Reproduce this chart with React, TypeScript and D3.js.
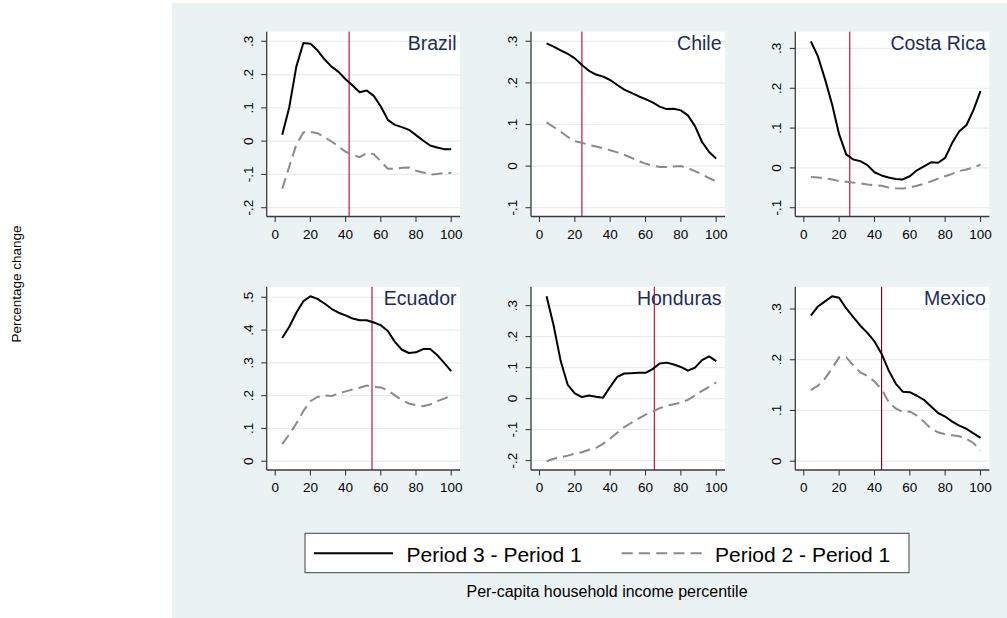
import React from "react";
import * as d3 from "d3";

// Percentile grid on which the income changes were evaluated
const percentiles = [4, 8, 12, 16, 20, 24, 28, 32, 36, 40, 44, 48, 52, 56, 60, 64, 68, 72, 76, 80, 84, 88, 92, 96, 100];

const countries = ["Brazil", "Chile", "Costa Rica", "Ecuador", "Honduras", "Mexico"];

// Period 3 - Period 1
const brazilP3 = [0.019, 0.102, 0.224, 0.295, 0.293, 0.273, 0.246, 0.224, 0.208, 0.186, 0.167, 0.147, 0.152, 0.136, 0.104, 0.064, 0.049, 0.042, 0.034, 0.018, 0.002, -0.013, -0.019, -0.024, -0.024];
const chileP3 = [0.295, 0.287, 0.278, 0.27, 0.259, 0.243, 0.229, 0.22, 0.215, 0.207, 0.195, 0.184, 0.176, 0.168, 0.161, 0.153, 0.143, 0.137, 0.138, 0.134, 0.122, 0.096, 0.058, 0.034, 0.018];
const costaRicaP3 = [0.318, 0.28, 0.223, 0.16, 0.084, 0.034, 0.021, 0.017, 0.007, -0.011, -0.019, -0.024, -0.028, -0.029, -0.021, -0.006, 0.004, 0.014, 0.013, 0.025, 0.063, 0.092, 0.107, 0.145, 0.193];
const ecuadorP3 = [0.376, 0.41, 0.453, 0.488, 0.503, 0.495, 0.481, 0.465, 0.453, 0.445, 0.435, 0.43, 0.43, 0.423, 0.415, 0.397, 0.364, 0.34, 0.33, 0.332, 0.342, 0.342, 0.324, 0.3, 0.275];
const hondurasP3 = [0.33, 0.236, 0.121, 0.044, 0.017, 0.005, 0.01, 0.006, 0.003, 0.038, 0.07, 0.081, 0.082, 0.083, 0.083, 0.095, 0.113, 0.116, 0.11, 0.102, 0.09, 0.1, 0.124, 0.136, 0.121];
const mexicoP3 = [0.287, 0.305, 0.315, 0.325, 0.322, 0.301, 0.284, 0.267, 0.253, 0.236, 0.212, 0.179, 0.153, 0.137, 0.136, 0.129, 0.121, 0.108, 0.095, 0.088, 0.078, 0.07, 0.064, 0.055, 0.046];

// Period 2 - Period 1
const brazilP2 = [-0.143, -0.076, -0.011, 0.026, 0.028, 0.024, 0.012, -0.001, -0.016, -0.032, -0.041, -0.048, -0.036, -0.039, -0.061, -0.083, -0.083, -0.08, -0.079, -0.089, -0.094, -0.101, -0.099, -0.096, -0.095];
const chileP2 = [0.105, 0.094, 0.083, 0.07, 0.06, 0.056, 0.051, 0.047, 0.043, 0.038, 0.033, 0.027, 0.02, 0.012, 0.006, 0.001, -0.002, -0.002, -0.001, 0.0, -0.005, -0.012, -0.02, -0.029, -0.037];
const costaRicaP2 = [-0.023, -0.024, -0.026, -0.029, -0.033, -0.035, -0.037, -0.039, -0.042, -0.043, -0.045, -0.049, -0.051, -0.052, -0.049, -0.045, -0.04, -0.034, -0.027, -0.021, -0.015, -0.008, -0.004, 0.001, 0.008];
const ecuadorP2 = [0.052, 0.082, 0.115, 0.153, 0.183, 0.196, 0.201, 0.199, 0.206, 0.213, 0.219, 0.224, 0.231, 0.227, 0.225, 0.216, 0.201, 0.186, 0.176, 0.171, 0.168, 0.173, 0.183, 0.191, 0.199];
const hondurasP2 = [-0.202, -0.194, -0.189, -0.184, -0.178, -0.173, -0.165, -0.159, -0.146, -0.129, -0.11, -0.092, -0.078, -0.065, -0.052, -0.042, -0.031, -0.023, -0.018, -0.013, -0.004, 0.01, 0.025, 0.038, 0.052];
const mexicoP2 = [0.14, 0.149, 0.163, 0.183, 0.205, 0.205, 0.189, 0.175, 0.168, 0.157, 0.142, 0.117, 0.104, 0.097, 0.098, 0.09, 0.078, 0.064, 0.057, 0.053, 0.051, 0.049, 0.044, 0.036, 0.021];

const period3 = [brazilP3, chileP3, costaRicaP3, ecuadorP3, hondurasP3, mexicoP3];
const period2 = [brazilP2, chileP2, costaRicaP2, ecuadorP2, hondurasP2, mexicoP2];

const yTicks = [
  [-0.2, -0.1, 0, 0.1, 0.2, 0.3],
  [-0.1, 0, 0.1, 0.2, 0.3],
  [-0.1, 0, 0.1, 0.2, 0.3],
  [0, 0.1, 0.2, 0.3, 0.4, 0.5],
  [-0.2, -0.1, 0, 0.1, 0.2, 0.3],
  [0, 0.1, 0.2, 0.3],
];
const xTicks = [0, 20, 40, 60, 80, 100];

// Percentile of the vertical reference line in each country
const cutoffs = [42, 24, 26, 55, 65, 44];

const legendLabels = ["Period 3 - Period 1", "Period 2 - Period 1"];
const xTitle = "Per-capita household income percentile";
const yTitle = "Percentage change";

const W = 1007;
const H = 618;
const FONT = "'Liberation Sans', Arial, Helvetica, sans-serif";
const BG = "#eaf2f3";
const GRID = "#e6eef0";
const AXIS = "#3a3a3a";
const TITLE = "#1c2c5c";
const DASH_COLOR = "#8a8a8a";

const colLeft = [266.7, 531, 795.3];
const colRight = [460, 725, 989.3];
const rowTop = [31.7, 286.7];
const rowBottom = [216.5, 470];

const fmt = (v: number) => {
  if (Math.abs(v) < 1e-9) return "0";
  const s = Math.abs(v).toFixed(1).replace(/^0/, "");
  return (v < 0 ? "-" : "") + s;
};

function Panel({ i }: { i: number }) {
  const c = i % 3;
  const r = Math.floor(i / 3);
  const left = colLeft[c];
  const right = colRight[c];
  const top = rowTop[r];
  const bottom = rowBottom[r];

  const ticks = yTicks[i];
  const vals = period3[i].concat(period2[i]);
  const lo = Math.min(ticks[0], d3.min(vals) as number);
  const hi = Math.max(ticks[ticks.length - 1], d3.max(vals) as number);

  const x = d3.scaleLinear().domain([0, 100]).range([left + 8.5, right - 8.8]);
  const y = d3.scaleLinear().domain([lo, hi]).range([bottom - 8.8, top + 9.6]);

  const line = d3
    .line<number>()
    .x((_, k) => x(percentiles[k]))
    .y((d) => y(d));

  const cutColor = i === 5 ? "#6e0c1c" : "#c8143c";

  return (
    <g>
      <rect x={left} y={top} width={right - left} height={bottom - top} fill="#ffffff" />
      {ticks.map((t) => (
        <line key={"g" + t} x1={left} x2={right} y1={y(t)} y2={y(t)} stroke={GRID} strokeWidth={1.2} />
      ))}
      <line x1={x(cutoffs[i])} x2={x(cutoffs[i])} y1={top} y2={bottom} stroke={cutColor} strokeWidth={1.2} />
      <path d={line(period2[i]) || ""} fill="none" stroke={DASH_COLOR} strokeWidth={2} strokeDasharray="11,6" />
      <path d={line(period3[i]) || ""} fill="none" stroke="#000" strokeWidth={2} strokeLinejoin="round" />
      <line x1={left} x2={left} y1={top} y2={bottom} stroke={AXIS} strokeWidth={1.3} />
      <line x1={left} x2={right} y1={bottom} y2={bottom} stroke={AXIS} strokeWidth={1.3} />
      {ticks.map((t) => (
        <g key={"y" + t}>
          <line x1={left - 5.5} x2={left} y1={y(t)} y2={y(t)} stroke={AXIS} strokeWidth={1.1} />
          <text
            transform={`translate(${left - 14},${y(t)}) rotate(-90)`}
            textAnchor="middle"
            fontSize={13.5}
            fontFamily={FONT}
            fill="#000"
          >
            {fmt(t)}
          </text>
        </g>
      ))}
      {xTicks.map((t) => (
        <g key={"x" + t}>
          <line x1={x(t)} x2={x(t)} y1={bottom} y2={bottom + 5.5} stroke={AXIS} strokeWidth={1.1} />
          <text x={x(t)} y={bottom + 22} textAnchor="middle" fontSize={13.5} fontFamily={FONT} fill="#000">
            {t}
          </text>
        </g>
      ))}
      <text x={right - 3.5} y={top + 18.5} textAnchor="end" fontSize={19.5} fontFamily={FONT} fill={TITLE}>
        {countries[i]}
      </text>
    </g>
  );
}

export default function App() {
  return (
    <svg
      width={W}
      height={H}
      viewBox={`0 0 ${W} ${H}`}
      style={{ position: "absolute", left: 0, top: 0, display: "block", background: "#fff" }}
    >
      <rect x={0} y={0} width={W} height={H} fill="#ffffff" />
      <rect x={172} y={3} width={W - 172} height={H - 3} fill={BG} />
      <text
        transform={`translate(21,284) rotate(-90)`}
        textAnchor="middle"
        fontSize={13.5}
        fontFamily={FONT}
        fill="#000"
      >
        {yTitle}
      </text>
      {countries.map((_, i) => (
        <Panel key={i} i={i} />
      ))}
      {/* legend */}
      <rect x={305} y={533.3} width={604} height={39.4} fill="#fff" stroke="#444" strokeWidth={1} />
      <line x1={314} x2={393} y1={553.3} y2={553.3} stroke="#000" strokeWidth={2} />
      <text x={406.5} y={561.5} fontSize={21} fontFamily={FONT} fill="#000">
        {legendLabels[0]}
      </text>
      <line x1={621.7} x2={702} y1={553.3} y2={553.3} stroke={DASH_COLOR} strokeWidth={2} strokeDasharray="11,6.25" />
      <text x={715} y={561.5} fontSize={21} fontFamily={FONT} fill="#000">
        {legendLabels[1]}
      </text>
      <text x={607} y={596.5} textAnchor="middle" fontSize={16} fontFamily={FONT} fill="#000">
        {xTitle}
      </text>
    </svg>
  );
}
